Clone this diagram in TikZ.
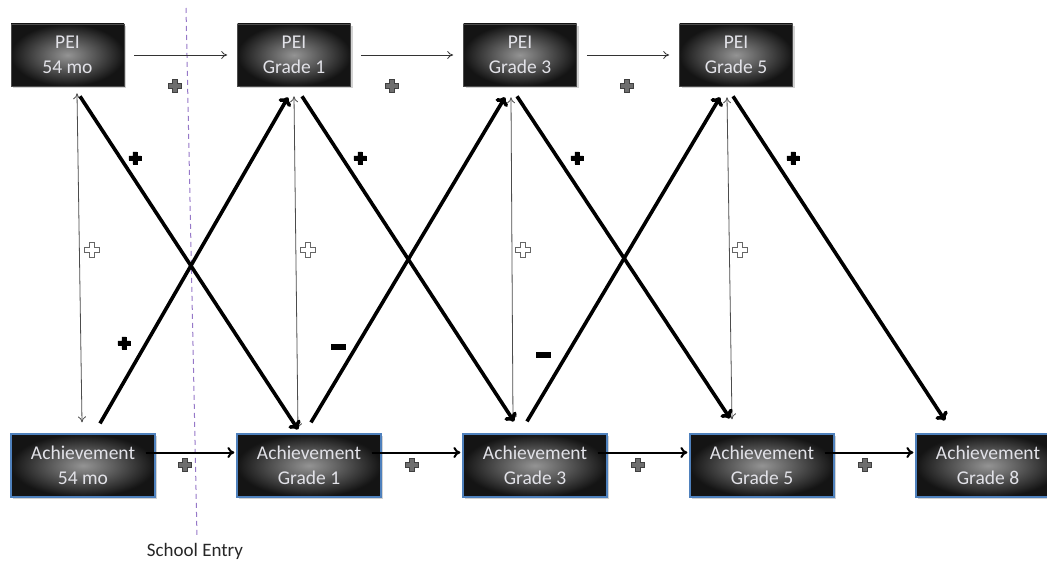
\documentclass[tikz,border=0pt]{standalone}
\usepackage{fontspec}
\setmainfont{Carlito}
\usetikzlibrary{arrows.meta,shadows}

\definecolor{boxtext}{RGB}{226,226,232}
\definecolor{achborder}{RGB}{79,129,189}
\definecolor{entryline}{RGB}{150,120,200}
\definecolor{plusgray}{RGB}{110,110,110}

\tikzset{
  boxbase/.style={rectangle, shading=radial, inner color=black!42, outer color=black!92,
    text=boxtext, align=center, font=\fontsize{19.5}{25}\selectfont,
    drop shadow={opacity=0.35, shadow xshift=2pt, shadow yshift=-2pt}},
  peibox/.style={boxbase, draw=black!70, line width=0.6pt,
    minimum width=113pt, minimum height=62pt},
  achbox/.style={boxbase, draw=achborder, line width=1.2pt,
    minimum width=144pt, minimum height=63pt},
  thinarrow/.style={draw=black!80, line width=0.8pt, -{To[length=6pt,width=8pt]}},
  bothways/.style={draw=black!70, line width=0.8pt, {To[length=6pt,width=8pt]}-{To[length=6pt,width=8pt]}},
  midarrow/.style={draw=black, line width=2pt, -{To[length=7pt,width=11pt]}},
  crossarrow/.style={draw=black, line width=3.6pt, -{To[length=8pt,width=14pt]}},
  plusmark/.pic={
    \path[pic actions] (-2.2,-6.5) -- (2.2,-6.5) -- (2.2,-2.2) -- (6.5,-2.2) -- (6.5,2.2)
      -- (2.2,2.2) -- (2.2,6.5) -- (-2.2,6.5) -- (-2.2,2.2) -- (-6.5,2.2) -- (-6.5,-2.2)
      -- (-2.2,-2.2) -- cycle;
  },
  greyplus/.style={fill=plusgray, draw=black!75, line width=1pt},
  openplus/.style={fill=white, draw=black!60, line width=1pt, scale=1.1},
  boldplus/.style={fill=black, draw=black, line width=0.4pt, scale=0.95},
}

\begin{document}
\begin{tikzpicture}[x=1pt, y=-1pt]
\useasboundingbox (0,0) rectangle (1047,567);

% school entry divider
\draw[entryline, line width=1pt, dash pattern=on 5pt off 4pt] (186,8) -- (197,537);
\node[text=black!85, font=\fontsize{19}{20}\selectfont] (entry) at (195,551) {School Entry};

% PEI row
\node[peibox] (pei1) at (67.5,55) {PEI\\54 mo};
\node[peibox] (pei2) at (294,55) {PEI\\Grade 1};
\node[peibox] (pei3) at (520,55) {PEI\\Grade 3};
\node[peibox] (pei4) at (736,55) {PEI\\Grade 5};

% Achievement row
\node[achbox] (ach1) at (83,465.5) {Achievement\\54 mo};
\node[achbox] (ach2) at (309,465.5) {Achievement\\Grade 1};
\node[achbox] (ach3) at (535,465.5) {Achievement\\Grade 3};
\node[achbox] (ach4) at (762,465.5) {Achievement\\Grade 5};
\node[achbox] (ach5) at (988,465.5) {Achievement\\Grade 8};

% PEI stability paths
\draw[thinarrow] ([xshift=10pt]pei1.east) -- ([xshift=-10pt]pei2.west);
\draw[thinarrow] ([xshift=10pt]pei2.east) -- ([xshift=-10pt]pei3.west);
\draw[thinarrow] ([xshift=10pt]pei3.east) -- ([xshift=-10pt]pei4.west);
\pic[greyplus] at (175,86) {plusmark};
\pic[greyplus] at (392,86) {plusmark};
\pic[greyplus] at (627,86) {plusmark};

% Achievement stability paths
\draw[midarrow] ([shift={(-10,-13)}]ach1.east) -- ([shift={(-2,-13)}]ach2.west);
\draw[midarrow] ([shift={(-10,-13)}]ach2.east) -- ([shift={(-2,-13)}]ach3.west);
\draw[midarrow] ([shift={(-10,-13)}]ach3.east) -- ([shift={(-2,-13)}]ach4.west);
\draw[midarrow] ([shift={(-10,-13)}]ach4.east) -- ([shift={(-2,-13)}]ach5.west);
\pic[greyplus] at (185,465) {plusmark};
\pic[greyplus] at (412,465) {plusmark};
\pic[greyplus] at (638,465) {plusmark};
\pic[greyplus] at (865,465) {plusmark};

% concurrent associations
\draw[bothways] ([shift={(9.5,7)}]pei1.south) -- ([shift={(-1,-11)}]ach1.north);
\draw[bothways] ([shift={(0,10)}]pei2.south) -- ([shift={(-11,-4)}]ach2.north);
\draw[bothways] ([shift={(-9,11)}]pei3.south) -- ([shift={(-22,-12)}]ach3.north);
\draw[bothways] ([shift={(-9,11)}]pei4.south) -- ([shift={(-30,-14)}]ach4.north);
\pic[openplus] at (92,250) {plusmark};
\pic[openplus] at (308,250) {plusmark};
\pic[openplus] at (523,250) {plusmark};
\pic[openplus] at (740,250) {plusmark};

% cross-lagged paths: PEI -> later achievement
\draw[crossarrow] ([shift={(12.5,10)}]pei1.south) -- ([shift={(-11,-4)}]ach2.north);
\draw[crossarrow] ([shift={(8,10)}]pei2.south) -- ([shift={(-21,-12)}]ach3.north);
\draw[crossarrow] ([shift={(-3,10)}]pei3.south) -- ([shift={(-32,-15)}]ach4.north);
\draw[crossarrow] ([shift={(-3,10)}]pei4.south) -- ([shift={(-43,-13)}]ach5.north);
\pic[boldplus] at (135,158) {plusmark};
\pic[boldplus] at (360,158) {plusmark};
\pic[boldplus] at (577,158) {plusmark};
\pic[boldplus] at (793,158) {plusmark};

% cross-lagged paths: achievement -> later PEI
\draw[crossarrow] ([shift={(17,-10)}]ach1.north) -- ([shift={(-6,11)}]pei2.south);
\draw[crossarrow] ([shift={(2,-11)}]ach2.north) -- ([shift={(-15,11)}]pei3.south);
\draw[crossarrow] ([shift={(-8,-12)}]ach3.north) -- ([shift={(-16,11)}]pei4.south);
\pic[boldplus] at (124,343) {plusmark};
\fill[black] (331,344) rectangle (346,350);
\fill[black] (536,352) rectangle (551,358);
\end{tikzpicture}
\end{document}
